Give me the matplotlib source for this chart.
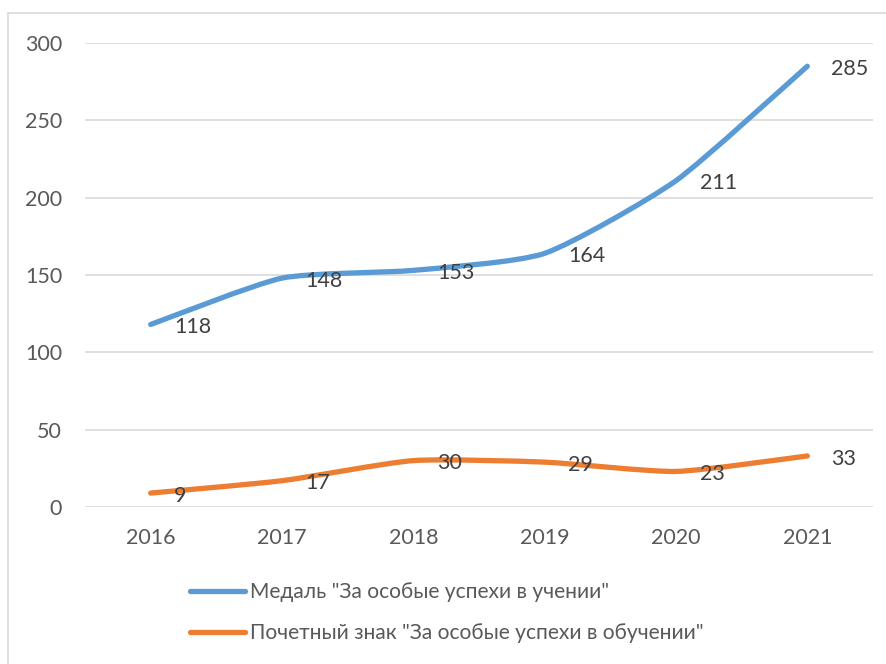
import numpy as np
import matplotlib.pyplot as plt
from matplotlib.path import Path
from matplotlib.patches import PathPatch, Rectangle
from matplotlib.lines import Line2D

years = ["2016", "2017", "2018", "2019", "2020", "2021"]
medal = [118, 148, 153, 164, 211, 285]
badge = [9, 17, 30, 29, 23, 33]
names = ['Медаль "За особые успехи в учении"',
         'Почетный знак "За особые успехи в обучении"']
colors = ["#5B9BD5", "#ED7D31"]

plt.rcParams['font.family'] = ['Lato', 'DejaVu Sans']
FS = 15.5


def smooth_path(x, y, k=10.0):
    # excel-like smoothed line: cubic bezier through every point
    pts = np.column_stack([x, y]).astype(float)
    n = len(pts)
    verts = [pts[0]]
    codes = [Path.MOVETO]
    for i in range(n - 1):
        p0 = pts[i - 1] if i > 0 else pts[i]
        p1 = pts[i]
        p2 = pts[i + 1]
        p3 = pts[i + 2] if i + 2 < n else pts[i + 1]
        c1 = p1 + (p2 - p0) / k
        c2 = p2 - (p3 - p1) / k
        verts += [c1, c2, p2]
        codes += [Path.CURVE4] * 3
    return Path(verts, codes)


fig = plt.figure(figsize=(8.87, 6.64), dpi=100)
fig.patches.append(Rectangle((8 / 887, -0.1), 1.1, (664 - 13) / 664 + 0.1,
                             transform=fig.transFigure, fill=False,
                             edgecolor="#D9D9D9", linewidth=1.2))

ax = fig.add_axes([85 / 887, 157 / 664, 788 / 887, 464 / 664])
x = np.arange(len(years))

for vals, col in zip([medal, badge], colors):
    patch = PathPatch(smooth_path(x, vals), fill=False, edgecolor=col,
                      linewidth=3.8, capstyle='round', joinstyle='round')
    ax.add_patch(patch)
    for xi, v in zip(x, vals):
        ax.annotate(str(v), (xi, v), xytext=(17, -2), textcoords='offset points',
                    ha='left', va='center', fontsize=FS, color="#404040")

ax.set_xlim(-0.5, len(years) - 0.5)
ax.set_ylim(0, 300)
ax.set_yticks(range(0, 301, 50))
ax.set_xticks(x)
ax.set_xticklabels(years)
ax.yaxis.grid(True, color="#D9D9D9", linewidth=1.2)
ax.set_axisbelow(True)
for s in ax.spines.values():
    s.set_visible(False)
ax.tick_params(length=0, labelsize=FS, labelcolor="#595959")
ax.tick_params(axis='y', pad=16.5)
ax.tick_params(axis='x', pad=15)

handles = [Line2D([], [], color=c, linewidth=3.8, solid_capstyle='round') for c in colors]
fig.legend(handles, names, loc='upper left', bbox_to_anchor=(190 / 887, 1 - 582 / 664),
           frameon=False, fontsize=15.1, handlelength=2.6, handletextpad=0.25,
           borderpad=0, borderaxespad=0, labelspacing=1.0, labelcolor="#595959")

fig.savefig("out.png", dpi=100)
